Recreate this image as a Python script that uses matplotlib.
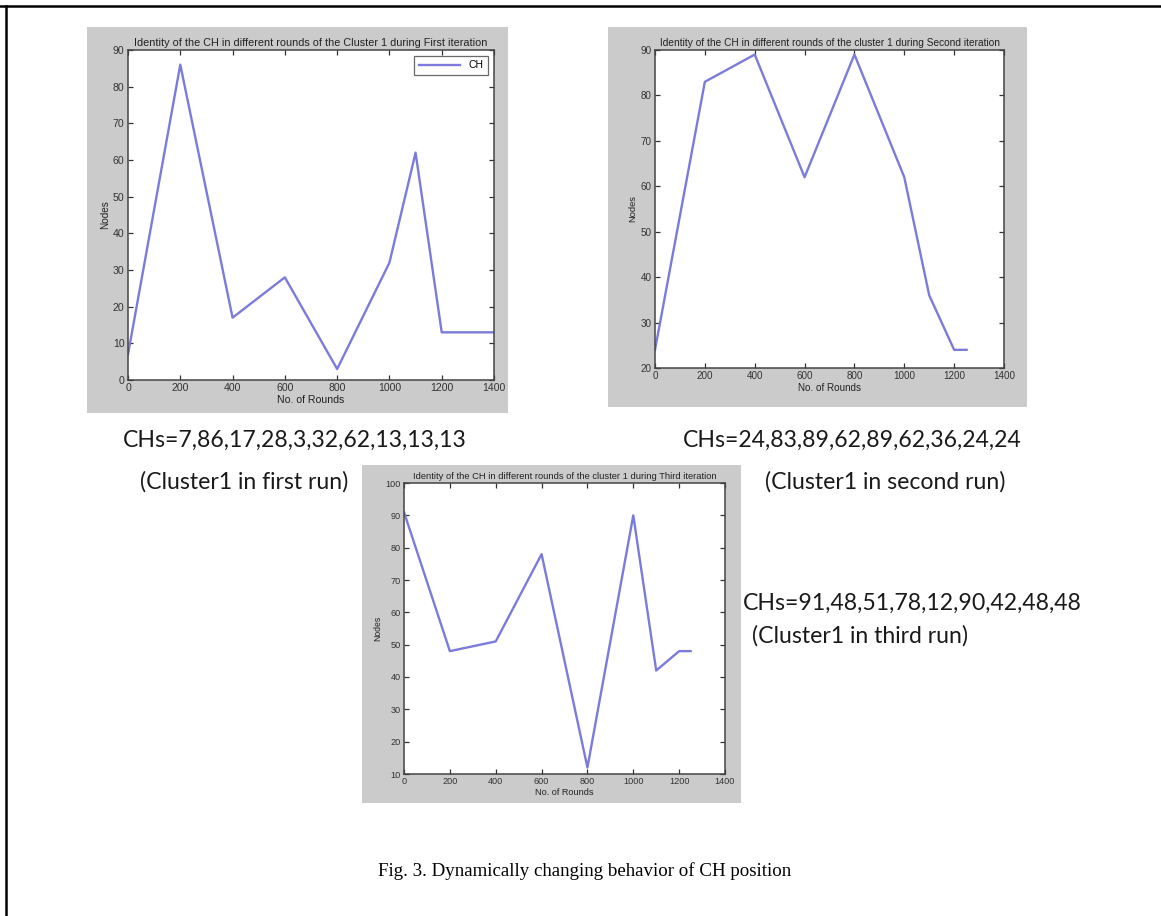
import matplotlib
matplotlib.use("Agg")
from matplotlib import pyplot as plt
from matplotlib.patches import Rectangle
from matplotlib.lines import Line2D

W, H = 1161, 916

# data
rounds1 = [0, 200, 400, 600, 800, 1000, 1100, 1200, 1300, 1400]
chs1 = [7, 86, 17, 28, 3, 32, 62, 13, 13, 13]
rounds2 = [0, 200, 400, 600, 800, 1000, 1100, 1200, 1250]
chs2 = [24, 83, 89, 62, 89, 62, 36, 24, 24]
rounds3 = [0, 200, 400, 600, 800, 1000, 1100, 1200, 1250]
chs3 = [91, 48, 51, 78, 12, 90, 42, 48, 48]

titles = [
  'Identity of the CH in different rounds of the Cluster 1 during First iteration',
  'Identity of the CH in different rounds of the cluster 1 during Second iteration',
  'Identity of the CH in different rounds of the cluster 1 during Third iteration',
]
ylims = [(0, 90), (20, 90), (10, 100)]
xticks = [0, 200, 400, 600, 800, 1000, 1200, 1400]

LINE = '#7b7bdc'
GRAY = '#cbcbcb'

fig = plt.figure(figsize=(W/100, H/100), dpi=100)
fig.patch.set_facecolor('white')

def fbox(x0, y0, x1, y1):
  # pixel box (top-left origin) -> figure fraction
  return [x0/W, 1 - y1/H, (x1-x0)/W, (y1-y0)/H]

def panel(gray, box, xs, ys, title, ylim, k=1.0, legend=False):
  # k scales the small fonts: the three screenshots were pasted at different sizes
  g = fbox(*gray)
  fig.add_artist(Rectangle((g[0], g[1]), g[2], g[3], transform=fig.transFigure,
                           facecolor=GRAY, edgecolor='none', zorder=0))
  ax = fig.add_axes(fbox(*box))
  ax.plot(xs, ys, color=LINE, lw=1.7, label='CH')
  ax.set_xlim(0, 1400)
  ax.set_ylim(*ylim)
  ax.set_xticks(xticks)
  ax.set_yticks(range(ylim[0], ylim[1]+1, 10))
  ax.tick_params(direction='in', top=True, right=True, labelsize=7.6*k,
                 length=3.5, width=0.9, colors='#333333', pad=2.5)
  for s in ax.spines.values():
    s.set_color('#444444')
    s.set_linewidth(1.1)
  ax.set_title(title, fontsize=7.8*k, color='#222222', pad=3)
  ax.set_xlabel('No. of Rounds', fontsize=7.6*k, color='#222222', labelpad=1)
  ax.set_ylabel('Nodes', fontsize=7.2*k, color='#222222', labelpad=2)
  if legend:
    leg = ax.legend(loc='upper right', fontsize=7.5, handlelength=4,
                    fancybox=False, borderaxespad=0.6)
    leg.get_frame().set_edgecolor('#444444')
    leg.get_frame().set_linewidth(0.9)
  return ax

plt.rcParams['font.family'] = ['Liberation Sans', 'DejaVu Sans']

panel((87, 27, 508, 413), (128, 50, 494, 380), rounds1, chs1, titles[0], ylims[0], legend=True)
panel((608, 27, 1027, 407), (655, 50, 1004, 368), rounds2, chs2, titles[1], ylims[1], k=0.94)
panel((362, 465, 741, 803), (404, 483, 725, 774), rounds3, chs3, titles[2], ylims[2], k=0.87)

def note(x, y, s, size=16.6):
  fig.text(x/W, 1 - y/H, s, fontsize=size, family='Lato', color='#1a1a1a',
           ha='left', va='center')

note(123, 440, 'CHs=' + ','.join(str(v) for v in chs1))
note(140, 482, '(Cluster1 in first run)')
note(683, 440, 'CHs=' + ','.join(str(v) for v in chs2))
note(765, 482, '(Cluster1 in second run)')
note(743, 603, 'CHs=' + ','.join(str(v) for v in chs3))
note(752, 636, '(Cluster1 in third run)')

fig.text(378/W, 1 - 871/H, 'Fig. 3. Dynamically changing behavior of CH position',
         fontsize=13.6, family='Liberation Serif', color='black', ha='left', va='center')

# page border (top and left edges)
fig.add_artist(Line2D([0, 1], [1 - 6/H, 1 - 6/H], transform=fig.transFigure, color='black', lw=1.8))
fig.add_artist(Line2D([6/W, 6/W], [0, 1 - 6/H], transform=fig.transFigure, color='black', lw=1.8))

fig.savefig('out.png', dpi=100)
